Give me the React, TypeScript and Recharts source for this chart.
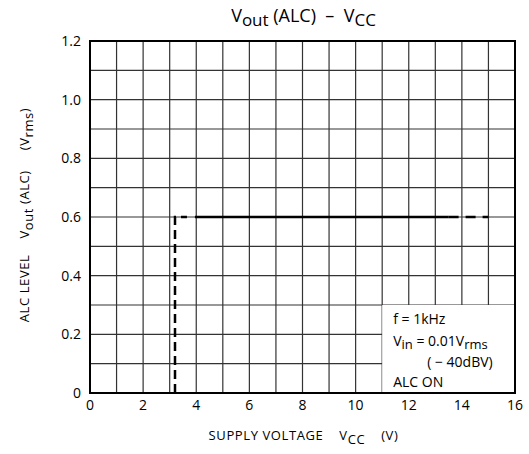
import { LineChart, Line, XAxis, YAxis, CartesianGrid, ReferenceArea } from 'recharts'

// supply voltage (V) ticks and ALC output level (Vrms) ticks
const xTicks = [0, 1, 2, 3, 4, 5, 6, 7, 8, 9, 10, 11, 12, 13, 14, 15, 16]
const yTicks = [0, 0.1, 0.2, 0.3, 0.4, 0.5, 0.6, 0.7, 0.8, 0.9, 1.0, 1.1, 1.2]
const xLabels = ['0', '2', '4', '6', '8', '10', '12', '14', '16']
const yLabels = ['0', '0.2', '0.4', '0.6', '0.8', '1.0', '1.2']

// curve pieces: dashed start-up, solid plateau, dashed tail
const riseVcc = [3.2, 3.2, 3.65]
const riseOut = [0, 0.6, 0.6]
const flatVcc = [3.95, 13.5]
const flatOut = [0.6, 0.6]
const tailVcc = [13.5, 15]
const tailOut = [0.6, 0.6]

const zip = (xs: number[], ys: number[]) => xs.map((v, i) => ({ vcc: v, out: ys[i] }))
const rise = zip(riseVcc, riseOut)
const flat = zip(flatVcc, flatOut)
const tail = zip(tailVcc, tailOut)

const font = '"Open Sans", "DejaVu Sans", sans-serif'

const fmtX = (v: number) => (xLabels.includes(String(v)) ? String(v) : '')
const fmtY = (v: number) => {
    const s = v === 0 ? '0' : v.toFixed(1)
    return yLabels.includes(s) ? s : ''
}

const sub = { fontSize: 13, verticalAlign: -4 }

function NoteBox(props: any) {
    const { x, y } = props.viewBox
    const tx = x + 11
    return (
        <g fontFamily={font} fontSize={14} fill="#000">
            <text x={tx} y={y + 19}>f = 1kHz</text>
            <text x={tx} y={y + 41}>
                V<tspan fontSize={13} dy={3}>in</tspan>
                <tspan dy={-3}> = 0.01V</tspan>
                <tspan fontSize={13} dy={3}>rms</tspan>
            </text>
            <text x={tx + 34} y={y + 62}>( − 40dBV)</text>
            <text x={tx} y={y + 82}>ALC ON</text>
        </g>
    )
}

export default function App() {
    return (
        <div style={{ position: 'absolute', left: 0, top: 0, width: 529, height: 454, background: '#fff', fontFamily: font }}>
            <div style={{ position: 'absolute', left: 0, width: 529, top: 3, textAlign: 'center', fontSize: 18, paddingLeft: 78, boxSizing: 'border-box', whiteSpace: 'pre' }}>
                V<sub style={{ fontSize: 17, verticalAlign: -4 }}>out</sub> (ALC)  –  V<sub style={{ fontSize: 17, verticalAlign: -4 }}>CC</sub>
            </div>
            <div style={{ position: 'absolute', left: 0, width: 529, top: 426, textAlign: 'center', fontSize: 13, letterSpacing: 0.6, paddingLeft: 78, boxSizing: 'border-box', whiteSpace: 'pre' }}>
                SUPPLY VOLTAGE    V<sub style={sub}>CC</sub>    (V)
            </div>
            <div style={{ position: 'absolute', left: 26, top: 215, width: 0, height: 0 }}>
                <div style={{ position: 'absolute', transform: 'translate(-50%, -50%) rotate(-90deg)', fontSize: 13, letterSpacing: 0.6, whiteSpace: 'pre' }}>
                    ALC LEVEL    V<sub style={sub}>out</sub> (ALC)     (V<sub style={sub}>rms</sub>)
                </div>
            </div>
            <LineChart width={529} height={454} margin={{ top: 41, right: 14, bottom: 0, left: 0 }} style={{ position: 'absolute', left: 0, top: 0 }}>
                <CartesianGrid stroke="#333" strokeWidth={1.2} />
                <XAxis
                    type="number"
                    dataKey="vcc"
                    domain={[0, 16]}
                    ticks={xTicks}
                    tickFormatter={fmtX}
                    interval={0}
                    axisLine={{ stroke: '#000', strokeWidth: 2 }}
                    tickLine={false}
                    tick={{ fontSize: 14, fill: '#000', fontFamily: font }}
                    height={61}
                    tickMargin={1}
                />
                <YAxis
                    type="number"
                    dataKey="out"
                    domain={[0, 1.2]}
                    ticks={yTicks}
                    tickFormatter={fmtY}
                    interval={0}
                    axisLine={{ stroke: '#000', strokeWidth: 2 }}
                    tickLine={false}
                    tick={{ fontSize: 14, fill: '#000', fontFamily: font }}
                    width={90}
                    tickMargin={3}
                />
                <ReferenceArea x1={11} x2={16} y1={0} y2={0.3} fill="#fff" fillOpacity={1} stroke="none" label={<NoteBox />} />
                <ReferenceArea x1={0} x2={16} y1={0} y2={1.2} fill="none" stroke="#000" strokeWidth={2} />
                <Line data={rise} dataKey="out" stroke="#000" strokeWidth={2.5} strokeDasharray="9 5" dot={false} isAnimationActive={false} />
                <Line data={flat} dataKey="out" stroke="#000" strokeWidth={2.5} dot={false} isAnimationActive={false} />
                <Line data={tail} dataKey="out" stroke="#000" strokeWidth={2.5} strokeDasharray="10 7" dot={false} isAnimationActive={false} />
            </LineChart>
        </div>
    )
}
